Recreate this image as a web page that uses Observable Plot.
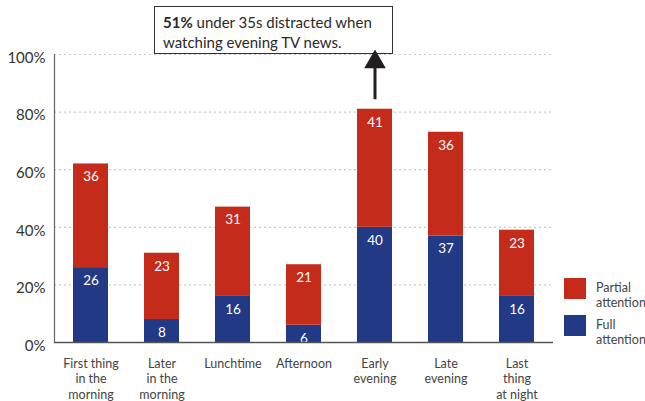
<!DOCTYPE html>
<html>
<head>
<meta charset="utf-8">
<script src="https://cdn.jsdelivr.net/npm/d3@7"></script>
<script src="https://cdn.jsdelivr.net/npm/@observablehq/plot@0.6"></script>
<style>
  body { margin: 0; background: #fff; font-family: Lato, "Open Sans", sans-serif; }
  #wrap { position: relative; width: 645px; height: 401px; }
  #wrap svg { position: absolute; left: 0; top: 0; background: transparent; }
  .note { position: absolute; left: 154px; top: 6px; width: 221px; height: 36px; padding: 5px 8px;
          border: 1.5px solid #333; background: #fff; font-size: 15px; line-height: 20px; color: #2a2a2a; white-space: nowrap; }
  .legend { position: absolute; left: 564px; top: 278px; font-size: 12.5px; line-height: 15px; color: #444; }
  .legend .item { position: relative; height: 37px; }
  .legend .sw { position: absolute; left: 0; top: 0; width: 22px; height: 21px; }
  .legend .lb { position: absolute; left: 32px; top: 2px; }
</style>
</head>
<body>
<div id="wrap"></div>
<script>
const categories = ["First thing\nin the\nmorning", "Later\nin the\nmorning", "Lunchtime", "Afternoon", "Early\nevening", "Late\nevening", "Last\nthing\nat night"];
const fullAttention = [26, 8, 16, 6, 40, 37, 16];
const partialAttention = [36, 23, 31, 21, 41, 36, 23];
const yTicks = [0, 20, 40, 60, 80, 100];
const seriesNames = ["Partial\nattention", "Full\nattention"];
const seriesColors = ["#c52b1b", "#223a85"];
const noteBold = "51%";
const noteText = " under 35s distracted when";
const noteText2 = "watching evening TV news.";
const arrowCategory = "Early\nevening";
const arrowFrom = 84.3;
const arrowTo = 96.5;
const arrowHead = 97.4;

const rows = [];
categories.forEach((c, i) => {
  rows.push({cat: c, series: "Full", y1: 0, y2: fullAttention[i], v: fullAttention[i]});
  rows.push({cat: c, series: "Partial", y1: fullAttention[i], y2: fullAttention[i] + partialAttention[i], v: partialAttention[i]});
});

const plot = Plot.plot({
  width: 645, height: 401,
  marginLeft: 54, marginRight: 92, marginTop: 54, marginBottom: 59,
  style: {fontFamily: "Lato, 'Open Sans', sans-serif", color: "#333", background: "transparent"},
  x: {domain: categories, paddingInner: 0.51, paddingOuter: 0.25, axis: null},
  y: {domain: [0, 100], axis: null},
  color: {domain: ["Partial", "Full"], range: seriesColors},
  marks: [
    Plot.gridY(yTicks.filter(d => d > 0), {stroke: "#c8c8c8", strokeOpacity: 1, strokeDasharray: "2,3", strokeWidth: 1.2}),
    Plot.barY(rows, {x: "cat", y1: "y1", y2: "y2", fill: "series"}),
    Plot.text(rows, {x: "cat", y: "y2", text: "v", dy: 13, fill: "white", fontSize: 13.5, lineAnchor: "middle"}),
    Plot.frame({anchor: "left", stroke: "#666", strokeWidth: 1.2}),
    Plot.ruleY([0], {stroke: "#555", strokeWidth: 1.5}),
    Plot.axisY({ticks: yTicks, tickFormat: d => d + "%", tickSize: 0, tickPadding: 9, fontSize: 15, fill: "#333", dy: 3.5}),
    Plot.axisX({tickSize: 0, tickPadding: 14, fontSize: 12.5, lineHeight: 1.25, fill: "#444"}),
    Plot.ruleX([{x: arrowCategory, a: arrowFrom, b: arrowTo}], {x: "x", y1: "a", y2: "b", stroke: "#231f20", strokeWidth: 3}),
    Plot.dot([{x: arrowCategory, y: arrowHead}], {x: "x", y: "y", symbol: "triangle", r: 8, fill: "#231f20", stroke: "none"})
  ]
});

const wrap = document.getElementById("wrap");
const note = document.createElement("div");
note.className = "note";
note.innerHTML = "<b>" + noteBold + "</b>" + noteText + "<br>" + noteText2;
wrap.appendChild(note);
wrap.appendChild(plot);

const legend = document.createElement("div");
legend.className = "legend";
seriesNames.forEach((name, i) => {
  const item = document.createElement("div");
  item.className = "item";
  const sw = document.createElement("div");
  sw.className = "sw";
  sw.style.background = seriesColors[i];
  const lb = document.createElement("div");
  lb.className = "lb";
  lb.innerHTML = name.replace("\n", "<br>");
  item.appendChild(sw);
  item.appendChild(lb);
  legend.appendChild(item);
});
wrap.appendChild(legend);
</script>
</body>
</html>
